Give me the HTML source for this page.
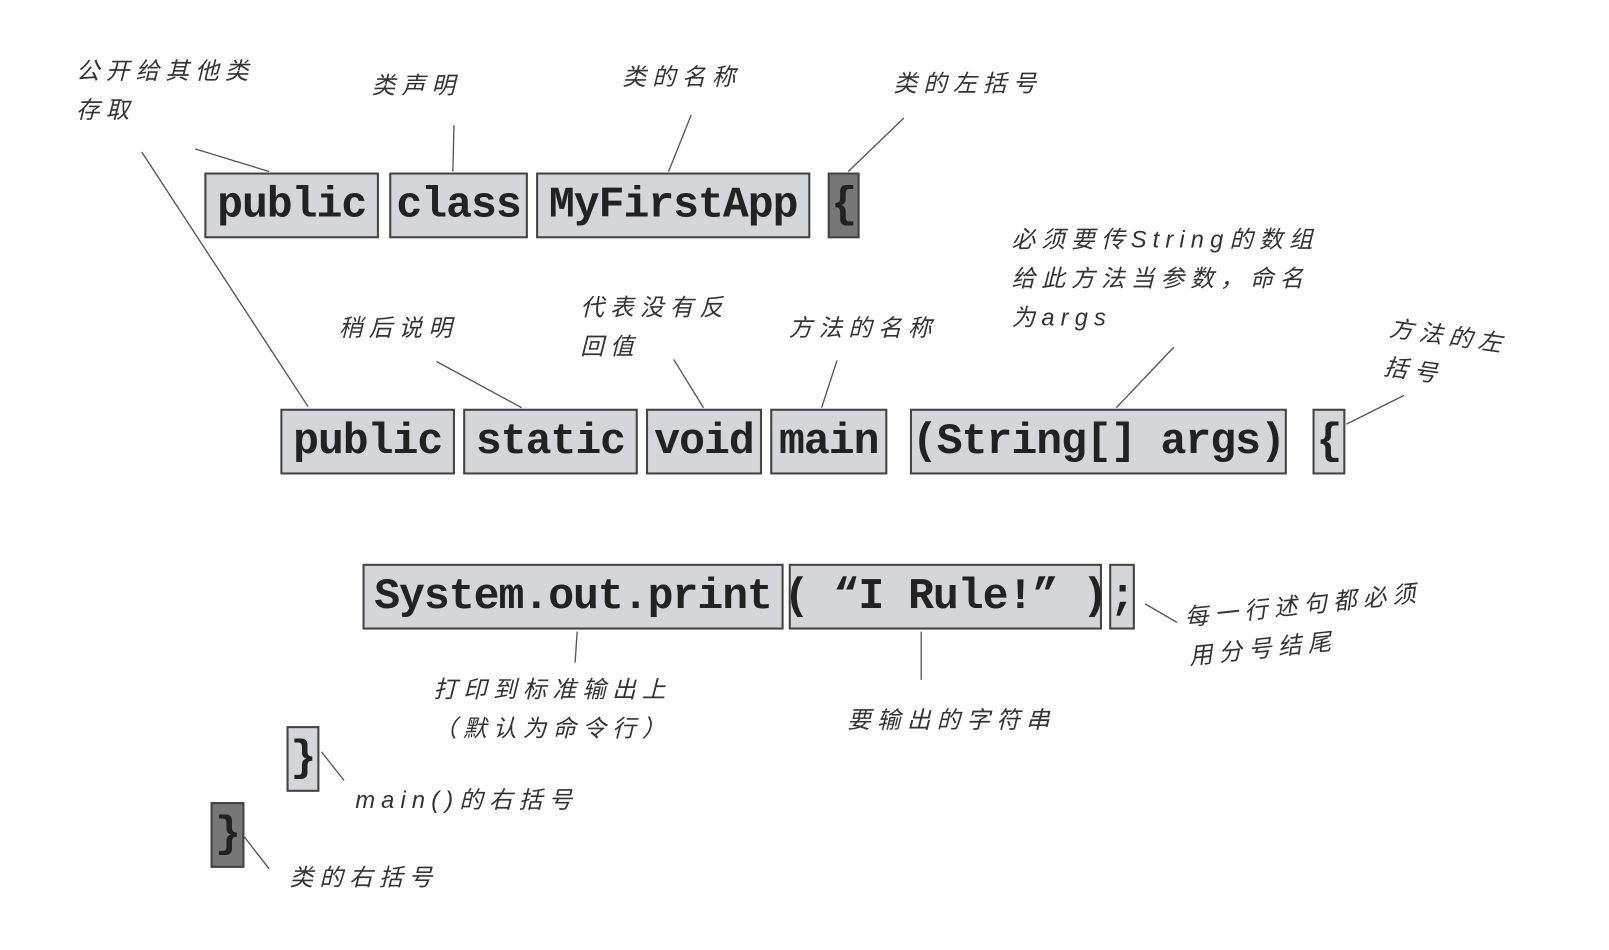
<!DOCTYPE html>
<html><head><meta charset="utf-8"><style>
body{margin:0;width:1609px;height:950px;background:#fff;position:relative;overflow:hidden}
#w{position:absolute;left:0;top:0;width:1567px;height:925px;transform:scale(1.027);transform-origin:0 0}
.b{position:absolute;box-sizing:border-box;border:2px solid #444;background:#d5d6d9;font:bold 42px "Liberation Mono",monospace;color:#222;display:flex;align-items:center;justify-content:center;white-space:pre;height:64px;letter-spacing:-1px}
.d{background:#777}
.t{position:absolute;font:23px "Liberation Sans","Noto Sans CJK SC",sans-serif;color:#333;letter-spacing:6px;line-height:38px;font-style:italic;white-space:nowrap}
svg{position:absolute;left:0;top:0}
</style></head><body><div id="w">
<svg width="1567" height="925"><g stroke="#555" stroke-width="1.3" fill="none">
<line x1="190" y1="145" x2="262" y2="167"/>
<line x1="442" y1="122" x2="441" y2="167"/>
<line x1="673" y1="112" x2="651" y2="167"/>
<line x1="880" y1="115" x2="826" y2="167"/>
<line x1="138" y1="148" x2="300" y2="396"/>
<line x1="425" y1="352" x2="508" y2="397"/>
<line x1="656" y1="350" x2="685" y2="397"/>
<line x1="815" y1="351" x2="800" y2="397"/>
<line x1="1143" y1="338" x2="1087" y2="397"/>
<line x1="1367" y1="385" x2="1311" y2="413"/>
<line x1="562" y1="615" x2="560" y2="645"/>
<line x1="897" y1="615" x2="897" y2="662"/>
<line x1="1115" y1="588" x2="1146" y2="606"/>
<line x1="313" y1="732" x2="335" y2="760"/>
<line x1="238" y1="815" x2="262" y2="846"/>
</g></svg>
<div class="b" style="left:199px;top:168px;width:170px">public</div>
<div class="b" style="left:379px;top:168px;width:135px">class</div>
<div class="b" style="left:522px;top:168px;width:267px">MyFirstApp</div>
<div class="b d" style="left:806px;top:168px;width:31px">{</div>
<div class="b" style="left:273px;top:398px;width:170px">public</div>
<div class="b" style="left:451px;top:398px;width:170px">static</div>
<div class="b" style="left:629px;top:398px;width:113px">void</div>
<div class="b" style="left:750px;top:398px;width:114px">main</div>
<div class="b" style="left:886px;top:398px;width:367px">(String[] args)</div>
<div class="b" style="left:1278px;top:398px;width:32px">{</div>
<div class="b" style="left:353px;top:549px;width:410px">System.out.print</div>
<div class="b" style="left:768px;top:549px;width:305px">( “I Rule!” )</div>
<div class="b" style="left:1080px;top:549px;width:25px">;</div>
<div class="b" style="left:279px;top:707px;width:32px">}</div>
<div class="b d" style="left:205px;top:781px;width:33px">}</div>
<div class="t" style="left:74px;top:50px">公开给其他类<br>存取</div>
<div class="t" style="left:362px;top:64px">类声明</div>
<div class="t" style="left:606px;top:56px">类的名称</div>
<div class="t" style="left:870px;top:62px">类的左括号</div>
<div class="t" style="left:985px;top:214px">必须要传String的数组<br>给此方法当参数，命名<br>为args</div>
<div class="t" style="left:565px;top:280px">代表没有反<br>回值</div>
<div class="t" style="left:330px;top:300px">稍后说明</div>
<div class="t" style="left:768px;top:300px">方法的名称</div>
<div class="t" style="left:1350px;top:308px;transform:rotate(8deg)">方法的左<br>括号</div>
<div class="t" style="left:1155px;top:570px;transform:rotate(-6deg)">每一行述句都必须<br>用分号结尾</div>
<div class="t" style="left:422px;top:652px">打印到标准输出上<br>（默认为命令行）</div>
<div class="t" style="left:825px;top:682px">要输出的字符串</div>
<div class="t" style="left:346px;top:760px">main()的右括号</div>
<div class="t" style="left:282px;top:835px">类的右括号</div>
</div></body></html>
